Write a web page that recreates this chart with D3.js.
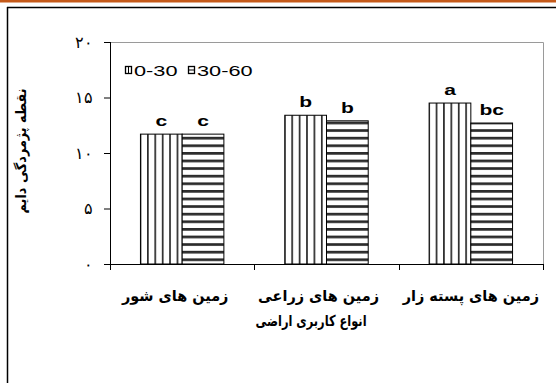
<!DOCTYPE html>
<html>
<head>
<meta charset="utf-8">
<script src="https://cdn.jsdelivr.net/npm/d3@7/dist/d3.min.js"></script>
<style>
  html, body { margin: 0; padding: 0; background: #fff; }
  svg { display: block; }
</style>
</head>
<body>
<div id="chart"></div>
<script>
// Land-use categories, left to right
const categories = ["زمین های شور", "زمین های زراعی", "زمین های پسته زار"];
// Soil depth series (cm)
const series = ["0-30", "30-60"];
// Permanent wilting point by depth
const depth0_30 = [11.7, 13.4, 14.5];
const depth30_60 = [11.7, 12.9, 12.7];
// Significance letters
const letters0_30 = ["c", "b", "a"];
const letters30_60 = ["c", "b", "bc"];
// Y-axis ticks and their Persian labels
const yTicks = [0, 5, 10, 15, 20];
const yTickLabels = ["۰", "۵", "۱۰", "۱۵", "۲۰"];

const yTitle = "نقطه پژمردگی دایم";
const xTitle = "انواع کاربری اراضی";

const W = 556, H = 383;
const plot = { left: 110, right: 543, top: 42, bottom: 264 };
// Latin labels are drawn slightly widened
const WIDEN = 1.45;
// Persian label layout
const catLabelScale = 0.965;
const catLabelShift = [-7, -8, 0];
const xTitleScale = 0.76;
const yTitleLength = 125;

const svg = d3.select("#chart").append("svg")
  .attr("width", W).attr("height", H);

// squeeze/stretch a text element horizontally around (cx, cy)
function placeScaled(sel, cx, cy, k, rotate) {
  sel.attr("x", 0).attr("y", 0)
    .attr("transform", `translate(${cx},${cy})${rotate ? " rotate(" + rotate + ")" : ""} scale(${k},1)`);
}
function fitWidth(sel, cx, cy, width, rotate) {
  const w = sel.node().getBBox().width;
  placeScaled(sel, cx, cy, width / w, rotate);
}

const defs = svg.append("defs");
// vertical stripes
const pv = defs.append("pattern").attr("id", "vstripe")
  .attr("patternUnits", "userSpaceOnUse").attr("width", 7.4).attr("height", 10);
pv.append("rect").attr("width", 7.4).attr("height", 10).attr("fill", "#fff");
pv.append("rect").attr("x", 0).attr("width", 1.7).attr("height", 10).attr("fill", "#2b2b2b");
// horizontal stripes
const ph = defs.append("pattern").attr("id", "hstripe")
  .attr("patternUnits", "userSpaceOnUse").attr("width", 10).attr("height", 7.6);
ph.append("rect").attr("width", 10).attr("height", 7.6).attr("fill", "#fff");
ph.append("rect").attr("y", 0).attr("width", 10).attr("height", 2.7).attr("fill", "#2b2b2b");

// page decoration: orange rule and frame
svg.append("rect").attr("x", 0).attr("y", 0).attr("width", W).attr("height", 2.5).attr("fill", "#c55a1a");
svg.append("line").attr("x1", 7).attr("x2", W).attr("y1", 7.5).attr("y2", 7.5)
  .attr("stroke", "#000").attr("stroke-width", 1.5);
svg.append("line").attr("x1", 7.5).attr("x2", 7.5).attr("y1", 7).attr("y2", H)
  .attr("stroke", "#000").attr("stroke-width", 1.5);

const x0 = d3.scaleBand().domain(categories).range([plot.left, plot.right]).padding(0);
const x1 = d3.scaleBand().domain(series).range([0, x0.bandwidth()])
  .paddingInner(0).paddingOuter(0.73);
const y = d3.scaleLinear().domain([0, 20]).range([plot.bottom, plot.top]);

// plot area border (top and right)
svg.append("path")
  .attr("d", `M${plot.left},${plot.top + 0.5}H${plot.right + 0.5}V${plot.bottom}`)
  .attr("fill", "none").attr("stroke", "#9a9a9a").attr("stroke-width", 1);

const rows = categories.map((c, i) => ({
  cat: c,
  vals: [
    { s: series[0], v: depth0_30[i], lab: letters0_30[i], fill: "url(#vstripe)" },
    { s: series[1], v: depth30_60[i], lab: letters30_60[i], fill: "url(#hstripe)" }
  ]
}));

const g = svg.selectAll("g.cat").data(rows).enter().append("g")
  .attr("class", "cat")
  .attr("transform", d => `translate(${x0(d.cat)},0)`);

g.selectAll("rect").data(d => d.vals).enter().append("rect")
  .attr("x", d => x1(d.s))
  .attr("y", d => y(d.v))
  .attr("width", x1.bandwidth())
  .attr("height", d => y(0) - y(d.v))
  .attr("fill", d => d.fill)
  .attr("stroke", "#000").attr("stroke-width", 1);

g.selectAll("text").data(d => d.vals).enter().append("text")
  .attr("transform", d => `translate(${x1(d.s) + x1.bandwidth() / 2},${y(d.v) - 8}) scale(${WIDEN},1)`)
  .attr("text-anchor", "middle")
  .attr("font-family", "Liberation Sans, Arial, sans-serif")
  .attr("font-weight", "bold")
  .attr("font-size", 14.5)
  .text(d => d.lab);

// y axis
const yAxis = svg.append("g").attr("transform", `translate(${plot.left},0)`)
  .call(d3.axisLeft(y).tickValues(yTicks).tickSize(6).tickPadding(11)
    .tickFormat((d, i) => yTickLabels[i]));
yAxis.select(".domain").attr("stroke", "#000").attr("d", `M0.5,${plot.top}V${plot.bottom + 6}`);
yAxis.selectAll(".tick line").attr("stroke", "#000");
yAxis.selectAll(".tick text")
  .attr("font-family", "DejaVu Serif, Liberation Serif, serif")
  .attr("font-size", 16).attr("fill", "#000");

// x axis with ticks at category boundaries
const xAxis = svg.append("g");
xAxis.append("line").attr("x1", plot.left).attr("x2", plot.right + 1)
  .attr("y1", plot.bottom + 0.5).attr("y2", plot.bottom + 0.5).attr("stroke", "#000");
const bounds = categories.map(c => x0(c)).concat([x0(categories[categories.length - 1]) + x0.bandwidth()]);
xAxis.selectAll("line.tk").data(bounds).enter().append("line")
  .attr("class", "tk")
  .attr("x1", d => Math.round(d) + 0.5).attr("x2", d => Math.round(d) + 0.5)
  .attr("y1", plot.bottom).attr("y2", plot.bottom + 6).attr("stroke", "#000");
xAxis.selectAll("text").data(categories).enter().append("text")
  .attr("text-anchor", "middle")
  .attr("font-family", "DejaVu Sans, sans-serif")
  .attr("font-weight", "bold").attr("font-size", 15)
  .attr("direction", "rtl")
  .text(d => d)
  .each(function (d, i) {
    placeScaled(d3.select(this), x0(d) + x0.bandwidth() / 2 + catLabelShift[i], 301, catLabelScale);
  });

// axis titles
const xt = svg.append("text")
  .attr("text-anchor", "middle")
  .attr("font-family", "DejaVu Sans, sans-serif")
  .attr("font-weight", "bold").attr("font-size", 15)
  .attr("direction", "rtl")
  .text(xTitle);
placeScaled(xt, 311, 326, xTitleScale);

const yt = svg.append("text")
  .attr("text-anchor", "middle")
  .attr("font-family", "DejaVu Sans, sans-serif")
  .attr("font-weight", "bold").attr("font-size", 14)
  .attr("direction", "rtl")
  .text(yTitle);
fitWidth(yt, 26, 151, yTitleLength, -90);

// legend
const legend = svg.append("g");
const legX = [125, 188];
series.forEach((s, i) => {
  const lg = legend.append("g").attr("transform", `translate(${legX[i]},66)`);
  lg.append("rect").attr("x", 0.5).attr("y", 0.5).attr("width", 6).attr("height", 7)
    .attr("fill", "#fff").attr("stroke", "#000").attr("stroke-width", 1.3);
  if (i === 0) {
    lg.append("line").attr("x1", 3.5).attr("x2", 3.5).attr("y1", 0.5).attr("y2", 7.5)
      .attr("stroke", "#000").attr("stroke-width", 1);
  } else {
    lg.append("line").attr("x1", 0.5).attr("x2", 6.5).attr("y1", 4).attr("y2", 4)
      .attr("stroke", "#000").attr("stroke-width", 1);
  }
  lg.append("text").attr("transform", `translate(9,9.5) scale(${WIDEN},1)`)
    .attr("font-family", "Liberation Sans, Arial, sans-serif")
    .attr("font-size", 15)
    .text(s);
});
</script>
</body>
</html>
